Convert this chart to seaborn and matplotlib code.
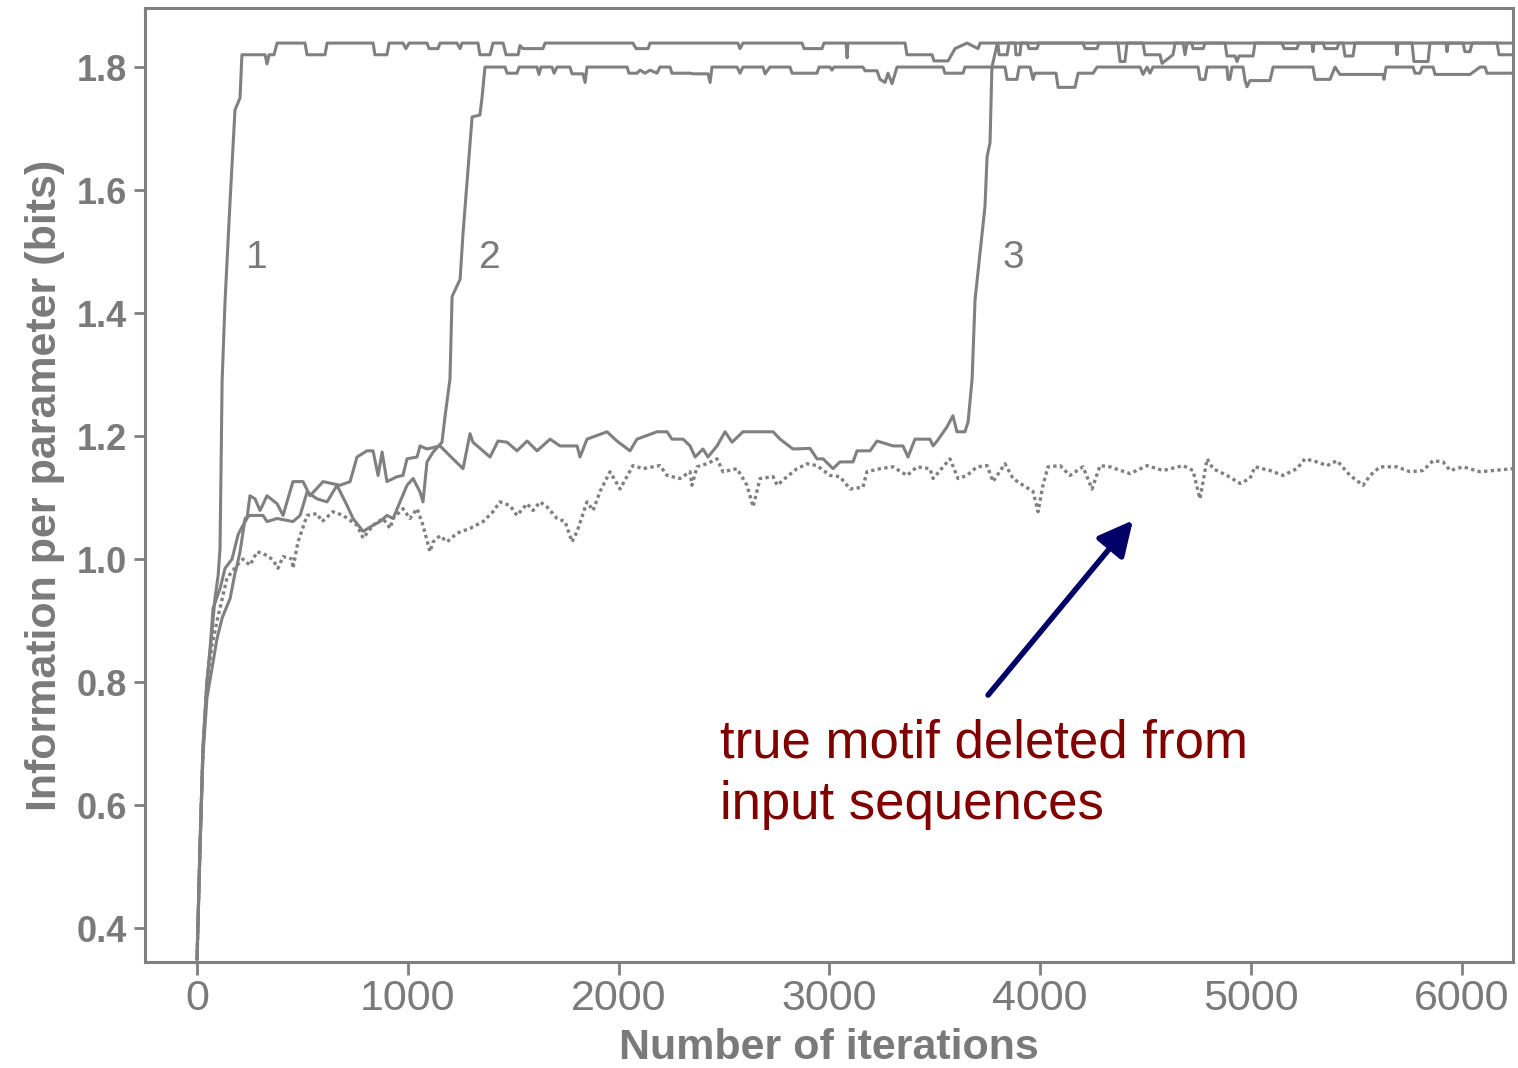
# -------------------------------------------------------
# information per parameter vs. number of sampler iterations
# -------------------------------------------------------

import matplotlib
matplotlib.use('Agg')
import seaborn as sns
import matplotlib.pyplot as plt

# run 1 (fast jump), (iteration, bits)
run1 = [(0, 0.349), (14, 0.531), (28, 0.693), (47, 0.80), (71, 0.883), (85, 0.936), (100, 0.973),
        (109, 1.017), (114, 1.15), (119, 1.29), (133, 1.42), (157, 1.584), (180, 1.73), (204, 1.75),
        (213, 1.82), (323, 1.82), (332, 1.805), (342, 1.82), (365, 1.82), (380, 1.839), (512, 1.839),
        (522, 1.82), (607, 1.82), (617, 1.839), (835, 1.839), (844, 1.82), (901, 1.82), (911, 1.839),
        (977, 1.839), (991, 1.83), (1006, 1.839), (1091, 1.839), (1101, 1.83), (1143, 1.83), (1153, 1.839),
        (1233, 1.839), (1248, 1.83), (1257, 1.839), (1333, 1.839), (1342, 1.82), (1390, 1.82), (1404, 1.839),
        (1452, 1.839), (1466, 1.82), (1523, 1.82), (1532, 1.835), (1546, 1.83), (1641, 1.83), (1651, 1.839),
        (2068, 1.839), (2083, 1.83), (2140, 1.83), (2149, 1.839), (2566, 1.839), (2576, 1.83), (2590, 1.839),
        (2870, 1.839), (2880, 1.83), (2965, 1.83), (2974, 1.839), (3079, 1.839), (3084, 1.815), (3088, 1.839),
        (3359, 1.839), (3368, 1.82), (3487, 1.82), (3496, 1.81), (3563, 1.81), (3596, 1.83), (3653, 1.839),
        (3705, 1.83), (3715, 1.839), (3881, 1.839), (3885, 1.82), (3904, 1.82), (3909, 1.839), (4203, 1.839),
        (4213, 1.83), (4270, 1.83), (4279, 1.839), (4369, 1.839), (4379, 1.809), (4402, 1.809), (4412, 1.839),
        (4678, 1.839), (4687, 1.82), (4697, 1.839), (4877, 1.839), (4886, 1.818), (4924, 1.818), (4934, 1.809),
        (4943, 1.818), (5010, 1.818), (5019, 1.839), (5289, 1.839), (5294, 1.825), (5299, 1.839), (5437, 1.839),
        (5446, 1.818), (5484, 1.818), (5493, 1.839), (5764, 1.839), (5773, 1.809), (5840, 1.809), (5849, 1.839),
        (6167, 1.839), (6177, 1.82), (6243, 1.82)]

# run 2 (jump near 1200)
run2 = [(0, 0.349), (14, 0.53), (28, 0.68), (47, 0.774), (71, 0.823), (95, 0.871), (119, 0.904), (128, 0.912),
        (157, 0.936), (180, 0.977), (190, 0.99), (204, 1.012), (228, 1.066), (251, 1.071), (313, 1.071),
        (332, 1.061), (380, 1.066), (455, 1.061), (489, 1.071), (522, 1.109), (569, 1.098), (617, 1.093),
        (664, 1.12), (712, 1.087), (740, 1.066), (788, 1.045), (835, 1.055), (868, 1.061), (901, 1.071),
        (930, 1.066), (963, 1.093), (996, 1.12), (1025, 1.131), (1058, 1.109), (1072, 1.093), (1091, 1.158),
        (1120, 1.174), (1162, 1.19), (1177, 1.233), (1200, 1.293), (1210, 1.427), (1248, 1.455), (1262, 1.53),
        (1305, 1.719), (1342, 1.722), (1352, 1.75), (1366, 1.80), (1461, 1.80), (1471, 1.79), (1518, 1.79),
        (1528, 1.80), (1613, 1.80), (1622, 1.788), (1632, 1.80), (1684, 1.80), (1694, 1.79), (1708, 1.80),
        (1769, 1.80), (1779, 1.789), (1831, 1.789), (1841, 1.775), (1850, 1.80), (2040, 1.80), (2049, 1.79),
        (2087, 1.79), (2102, 1.795), (2125, 1.79), (2149, 1.795), (2182, 1.79), (2196, 1.80), (2244, 1.80),
        (2253, 1.79), (2339, 1.79), (2353, 1.789), (2424, 1.789), (2434, 1.775), (2443, 1.80), (2562, 1.80),
        (2576, 1.79), (2590, 1.80), (2685, 1.80), (2695, 1.789), (2718, 1.80), (2813, 1.80), (2823, 1.79),
        (2941, 1.79), (2951, 1.80), (3003, 1.80), (3012, 1.795), (3022, 1.80), (3159, 1.80), (3169, 1.794),
        (3226, 1.794), (3240, 1.78), (3264, 1.775), (3278, 1.79), (3297, 1.773), (3321, 1.80), (3539, 1.80),
        (3548, 1.79), (3634, 1.79), (3643, 1.80), (3833, 1.80), (3843, 1.78), (3890, 1.78), (3900, 1.80),
        (3952, 1.80), (3966, 1.78), (3975, 1.79), (4075, 1.79), (4085, 1.767), (4165, 1.767), (4180, 1.79),
        (4251, 1.79), (4270, 1.80), (4474, 1.80), (4488, 1.788), (4507, 1.80), (4521, 1.79), (4535, 1.80),
        (4749, 1.80), (4758, 1.78), (4782, 1.78), (4792, 1.80), (4886, 1.80), (4891, 1.78), (4900, 1.78),
        (4910, 1.80), (4962, 1.80), (4972, 1.778), (4981, 1.768), (4995, 1.778), (5090, 1.778), (5105, 1.80),
        (5294, 1.80), (5304, 1.78), (5375, 1.78), (5399, 1.80), (5422, 1.788), (5626, 1.788), (5631, 1.78),
        (5641, 1.80), (5769, 1.80), (5778, 1.79), (5802, 1.79), (5812, 1.80), (5864, 1.80), (5873, 1.788),
        (6039, 1.788), (6087, 1.80), (6110, 1.80), (6120, 1.79), (6243, 1.79)]

# run 3 (jump near 3700)
run3 = [(0, 0.349), (14, 0.53), (28, 0.69), (47, 0.80), (62, 0.855), (76, 0.92), (109, 0.952), (133, 0.985),
        (166, 1.0), (195, 1.04), (218, 1.055), (237, 1.066), (251, 1.103), (275, 1.098), (299, 1.079),
        (332, 1.103), (380, 1.09), (408, 1.071), (455, 1.126), (503, 1.126), (536, 1.103), (598, 1.126),
        (678, 1.12), (726, 1.126), (759, 1.166), (806, 1.176), (835, 1.176), (859, 1.136), (878, 1.174),
        (901, 1.126), (949, 1.134), (977, 1.136), (996, 1.163), (1044, 1.166), (1058, 1.184), (1091, 1.179),
        (1153, 1.184), (1214, 1.163), (1262, 1.147), (1295, 1.204), (1309, 1.19), (1390, 1.166), (1428, 1.192),
        (1471, 1.19), (1518, 1.176), (1566, 1.192), (1613, 1.176), (1675, 1.195), (1722, 1.184), (1803, 1.184),
        (1817, 1.166), (1850, 1.195), (1945, 1.207), (1992, 1.192), (2054, 1.176), (2087, 1.195), (2182, 1.207),
        (2230, 1.207), (2253, 1.195), (2306, 1.195), (2339, 1.184), (2363, 1.166), (2400, 1.179), (2424, 1.166),
        (2467, 1.184), (2505, 1.207), (2538, 1.19), (2590, 1.207), (2733, 1.207), (2766, 1.195), (2827, 1.179),
        (2908, 1.18), (2941, 1.163), (2970, 1.163), (3017, 1.147), (3050, 1.158), (3112, 1.158), (3131, 1.176),
        (3193, 1.176), (3226, 1.192), (3302, 1.184), (3349, 1.184), (3373, 1.166), (3406, 1.195), (3477, 1.195),
        (3492, 1.184), (3511, 1.192), (3558, 1.215), (3586, 1.233), (3605, 1.207), (3643, 1.207), (3658, 1.223),
        (3677, 1.293), (3691, 1.422), (3738, 1.573), (3748, 1.654), (3762, 1.677), (3771, 1.80), (3795, 1.836),
        (3800, 1.836), (3805, 1.82), (3843, 1.82), (3852, 1.839), (3938, 1.839), (3947, 1.83), (3985, 1.83),
        (3994, 1.839), (4488, 1.839), (4497, 1.82), (4568, 1.82), (4578, 1.806), (4630, 1.82), (4640, 1.839),
        (4720, 1.839), (4725, 1.83), (4773, 1.83), (4782, 1.839), (5147, 1.839), (5157, 1.83), (5218, 1.83),
        (5228, 1.839), (5342, 1.839), (5351, 1.83), (5408, 1.83), (5418, 1.839), (5688, 1.839), (5693, 1.82),
        (5697, 1.839), (5925, 1.839), (5930, 1.825), (5935, 1.839), (6006, 1.839), (6015, 1.825), (6039, 1.825),
        (6049, 1.839), (6243, 1.839)]

# run with true motif deleted (dotted)
deleted = [(0, 0.349), (14, 0.53), (28, 0.69), (47, 0.80), (71, 0.86), (95, 0.90), (109, 0.92), (142, 0.969),
           (190, 0.99), (218, 1.0), (251, 0.99), (285, 1.012), (332, 1.006), (361, 0.998), (384, 0.985),
           (408, 1.004), (451, 1.0), (455, 0.985), (479, 1.028), (522, 1.071), (569, 1.074), (593, 1.061),
           (645, 1.077), (693, 1.071), (759, 1.055), (788, 1.034), (835, 1.055), (882, 1.066), (916, 1.05),
           (930, 1.066), (977, 1.082), (1010, 1.066), (1044, 1.082), (1072, 1.055), (1105, 1.012), (1120, 1.028),
           (1153, 1.038), (1186, 1.028), (1233, 1.042), (1295, 1.05), (1357, 1.061), (1404, 1.077), (1437, 1.093),
           (1485, 1.087), (1518, 1.071), (1566, 1.09), (1594, 1.079), (1627, 1.093), (1660, 1.085), (1708, 1.066),
           (1746, 1.061), (1779, 1.028), (1803, 1.045), (1850, 1.093), (1879, 1.079), (1912, 1.11), (1959, 1.142),
           (2007, 1.114), (2068, 1.152), (2116, 1.147), (2196, 1.152), (2230, 1.136), (2291, 1.131), (2339, 1.142),
           (2348, 1.12), (2372, 1.15), (2419, 1.155), (2467, 1.163), (2495, 1.142), (2562, 1.147), (2609, 1.12),
           (2638, 1.085), (2671, 1.131), (2733, 1.134), (2752, 1.12), (2799, 1.134), (2846, 1.147), (2894, 1.155),
           (2941, 1.152), (3003, 1.136), (3050, 1.134), (3098, 1.114), (3159, 1.117), (3178, 1.142), (3240, 1.147),
           (3302, 1.15), (3368, 1.136), (3416, 1.15), (3477, 1.147), (3492, 1.131), (3572, 1.163), (3610, 1.131),
           (3653, 1.136), (3700, 1.15), (3748, 1.152), (3776, 1.126), (3833, 1.155), (3871, 1.131), (3919, 1.12),
           (3966, 1.11), (3990, 1.077), (4013, 1.12), (4037, 1.15), (4094, 1.152), (4141, 1.136), (4203, 1.15),
           (4246, 1.114), (4284, 1.152), (4331, 1.15), (4426, 1.139), (4507, 1.152), (4583, 1.144), (4678, 1.152),
           (4725, 1.144), (4758, 1.098), (4792, 1.163), (4820, 1.147), (4886, 1.136), (4948, 1.123), (4995, 1.131),
           (5019, 1.15), (5090, 1.144), (5152, 1.136), (5218, 1.147), (5256, 1.163), (5313, 1.158), (5361, 1.152),
           (5408, 1.16), (5470, 1.136), (5532, 1.12), (5565, 1.136), (5612, 1.15), (5693, 1.15), (5755, 1.142),
           (5816, 1.144), (5864, 1.16), (5911, 1.158), (5945, 1.144), (6006, 1.15), (6087, 1.142), (6148, 1.144),
           (6243, 1.147)]

run_labels = ['1', '2', '3']
run_label_pos = [(285, 1.489), (1390, 1.489), (3871, 1.489)]
xticks = [0, 1000, 2000, 3000, 4000, 5000, 6000]
yticks = [0.4, 0.6, 0.8, 1.0, 1.2, 1.4, 1.6, 1.8]

grey = '#808080'
text_grey = '#7a7a7a'

sns.set_style('ticks')
plt.rcParams['font.family'] = ['Liberation Sans', 'DejaVu Sans']

fig = plt.figure(figsize=(15.18, 10.68), dpi=100)
ax = fig.add_axes([0.0955, 0.0993, 0.9012, 0.8932])

for run in [run1, run2, run3]:
    xs, ys = zip(*run)
    sns.lineplot(x=list(xs), y=list(ys), ax=ax, color=grey, lw=2.2, sort=False, estimator=None)

xs, ys = zip(*deleted)
sns.lineplot(x=list(xs), y=list(ys), ax=ax, color=grey, lw=2.4, sort=False, estimator=None,
             linestyle=(0, (1, 1)))

for lab, (lx, ly) in zip(run_labels, run_label_pos):
    ax.text(lx, ly, lab, color=text_grey, fontsize=28, ha='center', va='center')

# annotation for the deleted-motif run
ax.text(2481, 0.741, 'true motif deleted from\ninput sequences', color='#800000',
        fontsize=38, ha='left', va='top', linespacing=1.3)
ax.annotate('', xy=(4440, 1.063), xytext=(3753, 0.779),
            arrowprops=dict(arrowstyle='-|>,head_length=0.5,head_width=0.25',
                            color='#000066', lw=4, mutation_scale=42, shrinkA=0, shrinkB=0))

ax.set_xlim(-247, 6243)
ax.set_ylim(0.345, 1.896)
ax.set_xticks(xticks)
ax.set_yticks(yticks)
ax.set_yticklabels([f'{v:.1f}' for v in yticks], fontweight='bold')

for sp in ax.spines.values():
    sp.set_visible(True)
    sp.set_color(grey)
    sp.set_linewidth(2.2)

ax.tick_params(axis='x', direction='out', length=9, width=2, color=grey,
               labelsize=31, labelcolor=text_grey, pad=3)
ax.tick_params(axis='y', direction='out', length=8, width=2, color=grey,
               labelsize=26, labelcolor=text_grey, pad=5)

ax.set_xlabel('Number of iterations', fontsize=31, fontweight='bold', color=text_grey, labelpad=7)
ax.set_ylabel('Information per parameter (bits)', fontsize=31, fontweight='bold', color=text_grey, labelpad=8)

fig.savefig('out.png', dpi=100)
